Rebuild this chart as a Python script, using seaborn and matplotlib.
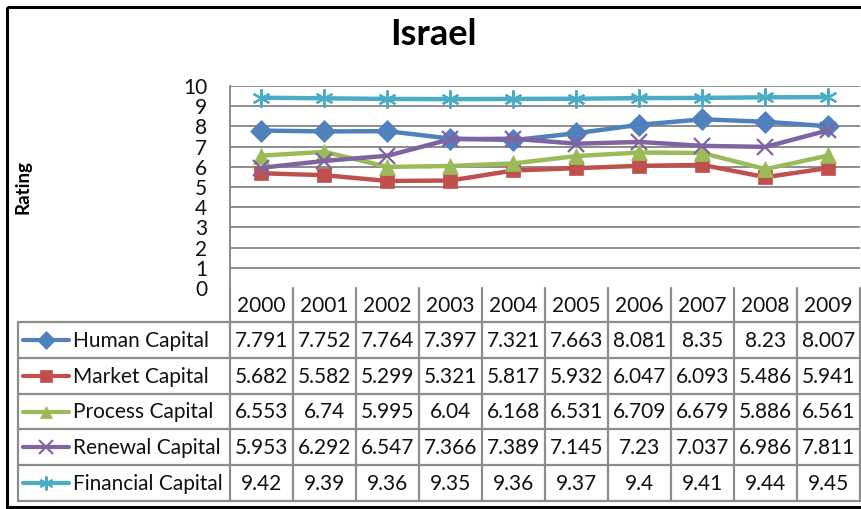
import matplotlib
matplotlib.use("Agg")
import matplotlib.pyplot as plt
from matplotlib.lines import Line2D
from matplotlib.patches import Rectangle
import seaborn as sns
import pandas as pd

years = ["2000", "2001", "2002", "2003", "2004", "2005", "2006", "2007", "2008", "2009"]
series_names = ["Human Capital", "Market Capital", "Process Capital",
                "Renewal Capital", "Financial Capital"]
human = [7.791, 7.752, 7.764, 7.397, 7.321, 7.663, 8.081, 8.35, 8.23, 8.007]
market = [5.682, 5.582, 5.299, 5.321, 5.817, 5.932, 6.047, 6.093, 5.486, 5.941]
process = [6.553, 6.74, 5.995, 6.04, 6.168, 6.531, 6.709, 6.679, 5.886, 6.561]
renewal = [5.953, 6.292, 6.547, 7.366, 7.389, 7.145, 7.23, 7.037, 6.986, 7.811]
financial = [9.42, 9.39, 9.36, 9.35, 9.36, 9.37, 9.4, 9.41, 9.44, 9.45]
y_ticks = [0, 1, 2, 3, 4, 5, 6, 7, 8, 9, 10]

values = [human, market, process, renewal, financial]
colors = ["#4F81BD", "#C0504D", "#9BBB59", "#8064A2", "#4BACC6"]
markers = ["D", "s", "^", "x", (6, 2, 0)]
msizes = [11, 10.5, 11, 11, 13]
line_art = [False, False, False, True, True]

rows = []
for name, vals in zip(series_names, values):
    for i, v in enumerate(vals):
        rows.append({"Year": i, "Series": name, "Rating": v})
df = pd.DataFrame(rows)

sns.set_theme(style="white")
plt.rcParams["font.family"] = ["Lato", "DejaVu Sans"]

W, H = 862, 509
fig = plt.figure(figsize=(W / 100, H / 100), dpi=100)
fig.patch.set_facecolor("white")

# plot area, in pixel geometry
left, top, right, bottom = 230, 86, 860, 288
ax = fig.add_axes([left / W, 1 - bottom / H, (right - left) / W, (bottom - top) / H])
grid_col = "#8C8C8C"
txt_col = "#111111"

for name, c, mk, ms, la in zip(series_names, colors, markers, msizes, line_art):
    sub = df[df["Series"] == name]
    sns.lineplot(data=sub, x="Year", y="Rating", color=c, marker=mk,
                 markersize=ms, linewidth=3.2, mfc=c, mec=c,
                 mew=1.6 if la else 0.5, legend=False, ax=ax, zorder=3)

ax.set_xlim(-0.5, len(years) - 0.5)
ax.set_ylim(0, 10)
ax.set_yticks(y_ticks)
ax.set_yticklabels([str(t) for t in y_ticks], fontsize=15, color=txt_col)
ax.set_xticks([])
ax.tick_params(axis="y", length=0, pad=16.5)
for yv in y_ticks[1:]:
    ax.axhline(yv, color=grid_col, lw=1.4, zorder=1)
for side in ["top", "right", "bottom"]:
    ax.spines[side].set_visible(False)
ax.spines["left"].set_color(grid_col)
ax.spines["left"].set_linewidth(1.4)
ax.set_xlabel("")
ax.set_ylabel("")
ax.patch.set_alpha(0)

# overlay in pixel coordinates for title, axis label, data table and frame
ov = fig.add_axes([0, 0, 1, 1])
ov.set_xlim(0, W)
ov.set_ylim(H, 0)
ov.axis("off")
ov.patch.set_alpha(0)

ov.add_patch(Rectangle((7, 7), W + 10, 500, fill=False, ec="black", lw=2.2))
ov.text(433, 34, "Israel", ha="center", va="center", fontsize=26,
        fontweight="bold", color="black")
ov.text(23, 187, "Rating", ha="center", va="center", rotation=90,
        fontsize=13.5, fontweight="bold", color="black")

col_w = (right - left) / len(years)
head_top, head_bot = bottom, 322
row_h = (501 - head_bot) / len(series_names)
lab_left = 18
tbl_col = "#8C8C8C"
tlw = 1.6
txt_fs = 15

# header row
ov.plot([left, left], [head_top, head_bot], color=tbl_col, lw=tlw)
for i, yr in enumerate(years):
    x0 = left + i * col_w
    ov.plot([x0 + col_w, x0 + col_w], [head_top, head_bot], color=tbl_col, lw=tlw)
    ov.text(x0 + col_w / 2, (head_top + head_bot) / 2 + 1, yr, ha="center",
            va="center", fontsize=txt_fs, color=txt_col)

# body rows
ov.plot([lab_left, right], [head_bot, head_bot], color=tbl_col, lw=tlw)
for r, (name, vals, c, mk, la) in enumerate(zip(series_names, values, colors,
                                                  markers, line_art)):
    y0 = head_bot + r * row_h
    y1 = y0 + row_h
    yc = (y0 + y1) / 2
    ov.plot([lab_left, right], [y1, y1], color=tbl_col, lw=tlw)
    ov.add_line(Line2D([23, 46, 69], [yc, yc, yc], color=c, lw=3, marker=mk,
                       markevery=[1], markersize=10 if la else 9,
                       mfc=c, mec=c, mew=1.5 if la else 0.5))
    ov.text(73, yc + 1, name, ha="left", va="center", fontsize=txt_fs, color=txt_col)
    for i, v in enumerate(vals):
        ov.text(left + (i + 0.5) * col_w, yc + 1, f"{v:g}", ha="center",
                va="center", fontsize=txt_fs, color=txt_col)
ov.plot([lab_left, lab_left], [head_bot, 501], color=tbl_col, lw=tlw)
ov.plot([left, left], [head_bot, 501], color=tbl_col, lw=tlw)
for i in range(len(years)):
    x1 = left + (i + 1) * col_w
    ov.plot([x1, x1], [head_bot, 501], color=tbl_col, lw=tlw)

fig.savefig("out.png", dpi=100, facecolor="white")
